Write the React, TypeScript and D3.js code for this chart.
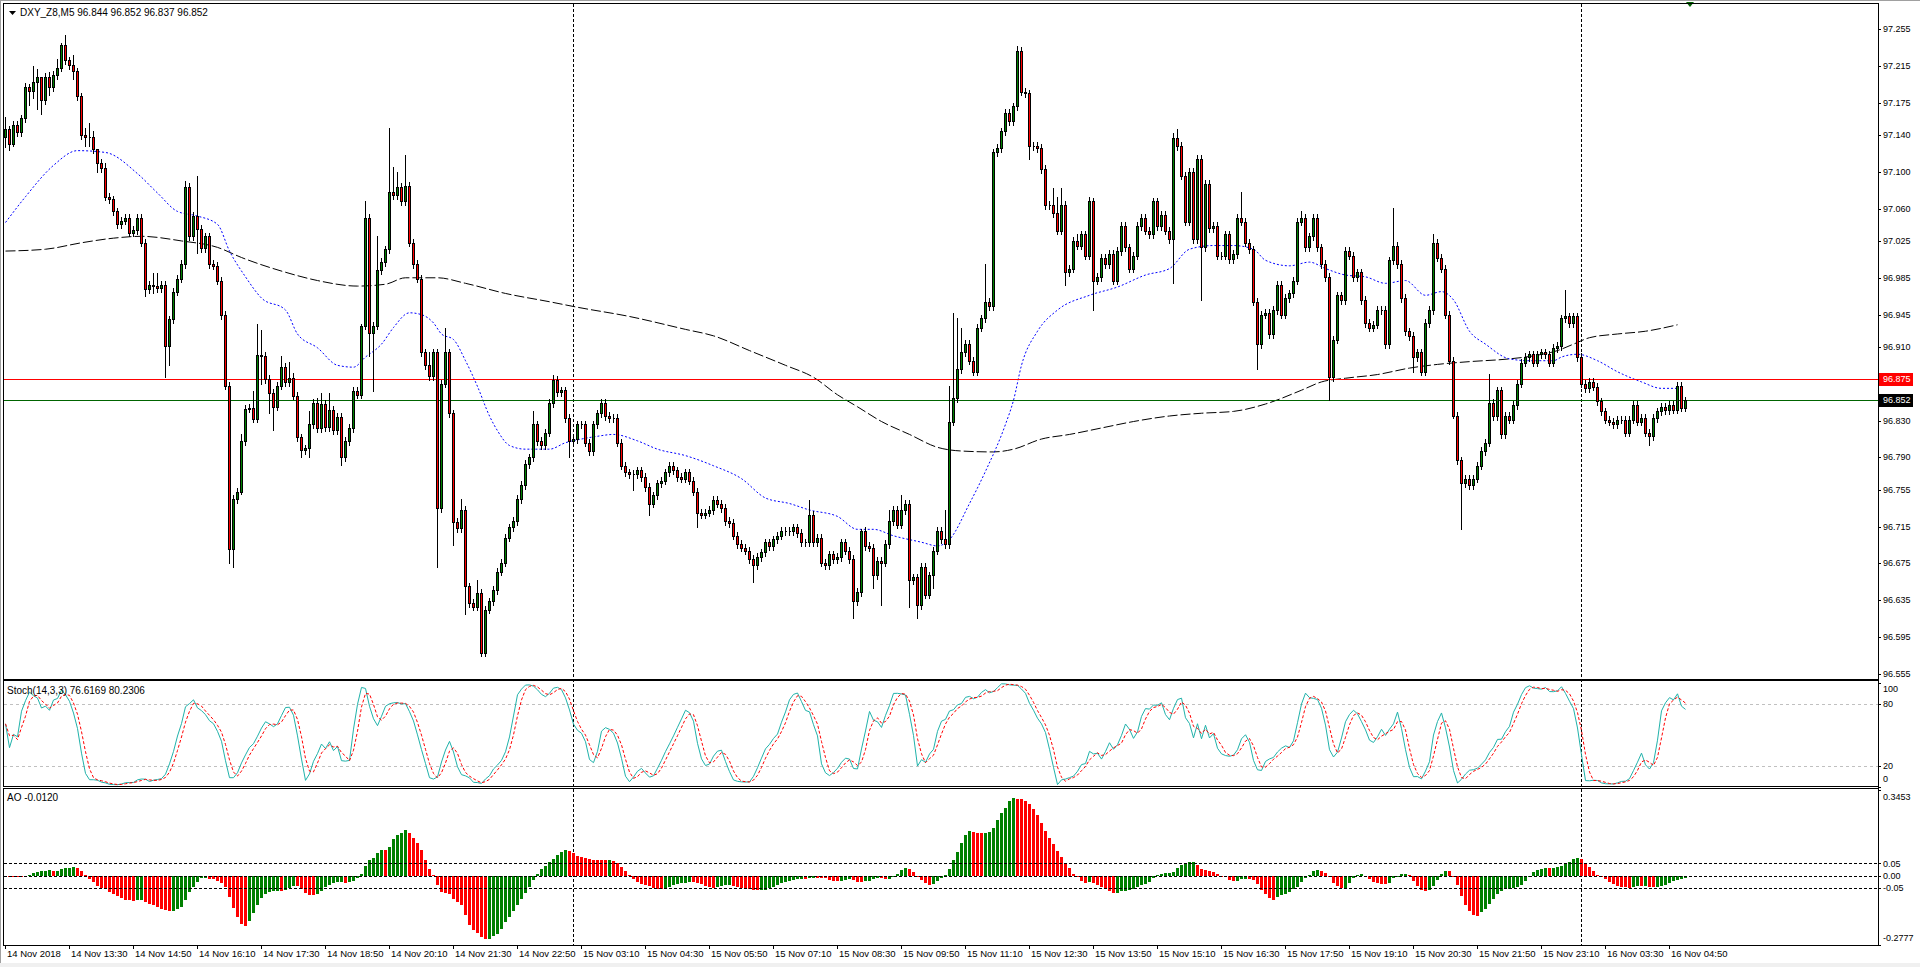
import React from 'react';
import * as d3 from 'd3';

// ---- DATA (DXY_Z8, M5) ----
const firstOpen = 97.138;
const closes: number[] = [
  97.147, 97.130, 97.151, 97.143, 97.158, 97.192, 97.188, 97.198, 97.203, 97.178,
  97.203, 97.192, 97.205, 97.213, 97.238, 97.221, 97.216, 97.209, 97.182, 97.140,
  97.138, 97.138, 97.125, 97.110, 97.104, 97.073, 97.070, 97.057, 97.043, 97.047,
  97.050, 97.034, 97.037, 97.050, 97.023, 96.973, 96.977, 96.976, 96.974, 96.977,
  96.911, 96.940, 96.970, 96.984, 97.000, 97.084, 97.030, 97.052, 97.038, 97.017,
  97.030, 97.000, 96.998, 96.982, 96.945, 96.868, 96.691, 96.745, 96.753, 96.808,
  96.843, 96.844, 96.832, 96.901, 96.900, 96.875, 96.860, 96.845, 96.868, 96.888,
  96.872, 96.876, 96.857, 96.812, 96.798, 96.800, 96.826, 96.849, 96.822, 96.848,
  96.823, 96.842, 96.820, 96.834, 96.790, 96.808, 96.822, 96.862, 96.858, 96.933,
  97.050, 96.925, 96.933, 96.993, 97.002, 97.016, 97.078, 97.075, 97.084, 97.068,
  97.085, 97.023, 97.000, 96.984, 96.904, 96.890, 96.878, 96.904, 96.735, 96.870,
  96.904, 96.838, 96.720, 96.713, 96.733, 96.650, 96.632, 96.628, 96.643, 96.578,
  96.625, 96.634, 96.646, 96.666, 96.676, 96.703, 96.714, 96.721, 96.745, 96.760,
  96.783, 96.790, 96.826, 96.808, 96.803, 96.817, 96.849, 96.874, 96.861, 96.863,
  96.833, 96.808, 96.810, 96.826, 96.826, 96.806, 96.797, 96.826, 96.838, 96.849,
  96.835, 96.833, 96.833, 96.806, 96.781, 96.774, 96.772, 96.772, 96.776, 96.769,
  96.758, 96.740, 96.749, 96.762, 96.765, 96.774, 96.781, 96.776, 96.769, 96.767,
  96.774, 96.765, 96.753, 96.730, 96.728, 96.730, 96.733, 96.744, 96.740, 96.735,
  96.721, 96.719, 96.705, 96.696, 96.692, 96.689, 96.680, 96.673, 96.682, 96.687,
  96.698, 96.694, 96.701, 96.705, 96.710, 96.710, 96.710, 96.714, 96.708, 96.698,
  96.698, 96.728, 96.698, 96.703, 96.676, 96.673, 96.685, 96.680, 96.682, 96.698,
  96.689, 96.680, 96.634, 96.644, 96.710, 96.694, 96.692, 96.662, 96.678, 96.676,
  96.696, 96.721, 96.733, 96.717, 96.733, 96.740, 96.657, 96.660, 96.630, 96.671,
  96.641, 96.662, 96.689, 96.710, 96.701, 96.696, 96.829, 96.854, 96.886, 96.904,
  96.913, 96.895, 96.883, 96.931, 96.941, 96.959, 96.954, 97.121, 97.126, 97.144,
  97.164, 97.155, 97.171, 97.231, 97.187, 97.185, 97.128, 97.128, 97.126, 97.103,
  97.064, 97.064, 97.055, 97.036, 97.064, 96.991, 96.995, 97.025, 97.020, 97.032,
  97.009, 97.068, 96.982, 96.986, 97.007, 97.000, 97.011, 96.982, 97.014, 97.041,
  97.018, 96.995, 97.009, 97.041, 97.050, 97.036, 97.032, 97.068, 97.041, 97.053,
  97.036, 97.027, 97.137, 97.128, 97.096, 97.046, 97.100, 97.027, 97.114, 97.018,
  97.087, 97.039, 97.041, 97.009, 97.009, 97.032, 97.005, 97.011, 97.050, 97.046,
  97.023, 97.016, 96.959, 96.913, 96.945, 96.947, 96.924, 96.950, 96.977, 96.945,
  96.963, 96.968, 96.982, 97.046, 97.050, 97.018, 97.030, 97.050, 97.018, 97.000,
  96.986, 96.877, 96.918, 96.966, 96.961, 97.014, 97.009, 96.986, 96.991, 96.961,
  96.936, 96.931, 96.934, 96.950, 96.950, 96.913, 97.004, 97.020, 97.000, 96.963,
  96.927, 96.922, 96.899, 96.904, 96.883, 96.936, 96.950, 97.023, 97.007, 96.995,
  96.945, 96.895, 96.835, 96.787, 96.762, 96.767, 96.760, 96.767, 96.781, 96.797,
  96.806, 96.849, 96.835, 96.863, 96.815, 96.835, 96.831, 96.847, 96.870, 96.893,
  96.899, 96.902, 96.893, 96.902, 96.904, 96.902, 96.893, 96.909, 96.911, 96.941,
  96.943, 96.936, 96.943, 96.899, 96.870, 96.865, 96.872, 96.867, 96.851, 96.840,
  96.831, 96.829, 96.826, 96.831, 96.831, 96.817, 96.831, 96.847, 96.829, 96.833,
  96.817, 96.813, 96.833, 96.840, 96.845, 96.841, 96.847, 96.842, 96.868, 96.844, 96.852,
];

// notable wick extremes: [bar, price]
const highWicks: [number, number][] = [
  [0, 97.160], [1, 97.150], [2, 97.155], [6, 97.195], [7, 97.215], [8, 97.212], [9, 97.190],
  [11, 97.208], [13, 97.222], [14, 97.240], [15, 97.248], [17, 97.227], [20, 97.148], [21, 97.153],
  [22, 97.144], [23, 97.125], [25, 97.110], [37, 96.990], [38, 96.990], [45, 97.090], [48, 97.095],
  [59, 96.815], [62, 96.862], [63, 96.935], [64, 96.928], [69, 96.900], [71, 96.894], [72, 96.882],
  [76, 96.840], [78, 96.855], [79, 96.860], [81, 96.860], [89, 96.935], [90, 97.068], [93, 97.030],
  [96, 97.148], [97, 97.105], [98, 97.100], [100, 97.118], [106, 96.905], [110, 96.930], [114, 96.745],
  [118, 96.657], [132, 96.840], [137, 96.879], [201, 96.744], [214, 96.712], [221, 96.733], [224, 96.749],
  [226, 96.744], [235, 96.733], [236, 96.868], [237, 96.947], [238, 96.941], [239, 96.931], [245, 97.000],
  [253, 97.237], [262, 97.082], [263, 97.073], [264, 97.082], [268, 97.032], [271, 97.073], [292, 97.142],
  [293, 97.146], [309, 97.078], [324, 97.057], [347, 97.061], [357, 97.032], [371, 96.881], [390, 96.972],
];
const lowWicks: [number, number][] = [
  [0, 97.127], [1, 97.124], [2, 97.128], [6, 97.172], [7, 97.180], [8, 97.168], [9, 97.163],
  [11, 97.183], [17, 97.201], [20, 97.128], [21, 97.128], [22, 97.120], [23, 97.100], [35, 96.965],
  [37, 96.968], [40, 96.877], [41, 96.890], [48, 97.012], [54, 96.940], [56, 96.675], [57, 96.671],
  [59, 96.750], [64, 96.870], [66, 96.838], [67, 96.820], [74, 96.790], [76, 96.790], [84, 96.782],
  [91, 96.900], [92, 96.862], [108, 96.671], [112, 96.695], [115, 96.620], [119, 96.575], [141, 96.790],
  [157, 96.755], [161, 96.728], [173, 96.715], [187, 96.655], [212, 96.616], [217, 96.648], [219, 96.630],
  [226, 96.628], [228, 96.616], [232, 96.648], [256, 97.114], [265, 96.977], [272, 96.950], [292, 96.979],
  [299, 96.961], [313, 96.886], [331, 96.852], [352, 96.883], [362, 96.833], [364, 96.712], [411, 96.804],
];
const wickPad = 0.004;

// moving averages: [bar, price]
const blueMA: [number, number][] = [
  [0, 97.045], [5, 97.073], [12, 97.107], [18, 97.123], [25, 97.121], [33, 97.098], [38, 97.077],
  [43, 97.057], [48, 97.052], [53, 97.043], [56, 97.014], [60, 96.986], [64, 96.963], [70, 96.950],
  [73, 96.924], [78, 96.909], [83, 96.890], [87, 96.888], [90, 96.899], [94, 96.913], [97, 96.931],
  [101, 96.947], [104, 96.945], [107, 96.936], [109, 96.924], [112, 96.918], [115, 96.895], [118, 96.867],
  [121, 96.835], [123, 96.819], [126, 96.803], [130, 96.799], [136, 96.799], [140, 96.806], [144, 96.810],
  [148, 96.813], [152, 96.815], [158, 96.808], [163, 96.799], [170, 96.792], [177, 96.781], [184, 96.767],
  [190, 96.746], [196, 96.740], [201, 96.733], [208, 96.726], [213, 96.712], [217, 96.712], [222, 96.705],
  [229, 96.698], [233, 96.694], [236, 96.701], [241, 96.740], [245, 96.775], [250, 96.826], [252, 96.852],
  [254, 96.890], [258, 96.927], [263, 96.950], [271, 96.966], [278, 96.975], [285, 96.988], [291, 96.995],
  [296, 97.016], [302, 97.020], [307, 97.020], [312, 97.016], [315, 97.004], [321, 96.998], [326, 97.002],
  [330, 96.995], [335, 96.988], [340, 96.986], [345, 96.979], [350, 96.982], [355, 96.966], [359, 96.970],
  [362, 96.961], [366, 96.927], [370, 96.913], [376, 96.897], [381, 96.895], [387, 96.895], [389, 96.899],
  [393, 96.902], [398, 96.895], [403, 96.883], [409, 96.872], [414, 96.865], [418, 96.865],
];
const blackMA: [number, number][] = [
  [0, 97.014], [10, 97.016], [19, 97.023], [27, 97.028], [34, 97.030], [44, 97.025], [53, 97.018],
  [59, 97.007], [70, 96.991], [78, 96.982], [88, 96.976], [95, 96.978], [100, 96.985], [108, 96.985],
  [115, 96.979], [125, 96.968], [136, 96.959], [143, 96.953], [156, 96.943], [170, 96.929], [177, 96.922],
  [186, 96.906], [195, 96.890], [202, 96.877], [208, 96.858], [213, 96.845], [219, 96.829], [226, 96.815],
  [233, 96.801], [239, 96.797], [247, 96.796], [252, 96.799], [259, 96.810], [266, 96.815], [274, 96.822],
  [282, 96.829], [291, 96.835], [299, 96.838], [307, 96.840], [315, 96.848], [324, 96.863], [329, 96.872],
  [335, 96.876], [343, 96.880], [351, 96.887], [358, 96.891], [366, 96.894], [376, 96.897], [383, 96.901],
  [388, 96.906], [392, 96.913], [396, 96.920], [403, 96.924], [410, 96.927], [418, 96.934],
];

const priceTicks = [97.255, 97.215, 97.175, 97.140, 97.100, 97.060, 97.025, 96.985, 96.945, 96.910,
  96.830, 96.790, 96.755, 96.715, 96.675, 96.635, 96.595, 96.555];
const timeLabels = ['14 Nov 2018', '14 Nov 13:30', '14 Nov 14:50', '14 Nov 16:10', '14 Nov 17:30',
  '14 Nov 18:50', '14 Nov 20:10', '14 Nov 21:30', '14 Nov 22:50', '15 Nov 03:10', '15 Nov 04:30',
  '15 Nov 05:50', '15 Nov 07:10', '15 Nov 08:30', '15 Nov 09:50', '15 Nov 11:10', '15 Nov 12:30',
  '15 Nov 13:50', '15 Nov 15:10', '15 Nov 16:30', '15 Nov 17:50', '15 Nov 19:10', '15 Nov 20:30',
  '15 Nov 21:50', '15 Nov 23:10', '16 Nov 03:30', '16 Nov 04:50'];
const barsPerLabel = 16;
const daySeparators = [142, 394];
const stochTicks = [100, 80, 20, 0];
const stochLevels = [80, 20];
const aoTicks = [0.3453, 0.05, 0.0, -0.05, -0.2777];
const aoLevels = [0.05, 0.0, -0.05];
const redLevel = 96.875;
const bidLevel = 96.852;
const headerText = 'DXY_Z8,M5  96.844 96.852 96.837 96.852';
const stochText = 'Stoch(14,3,3) 76.6169 80.2306';
const aoText = 'AO -0.0120';

const FONT = '"Liberation Sans", Arial, sans-serif';
const BULL = '#008000';
const BEAR = '#ff0000';

export default function App() {
  const W = 1920, H = 967;
  const L = 4, R = 1878;
  const main = { top: 4, bottom: 679 };
  const st = { top: 681, bottom: 786 };
  const ao = { top: 789, bottom: 945 };
  const n = closes.length;

  const x = d3.scaleLinear().domain([0, n - 1]).range([5, 5 + 4 * (n - 1)]);
  const y = d3.scaleLinear().domain([96.555, 97.255]).range([674, 29]);
  const ys = d3.scaleLinear().domain([0, 100]).range([786.8, 682.9]);
  const ya = d3.scaleLinear().domain([-0.2777, 0.3453]).range([945, 790]);

  const hiMap = new Map(highWicks);
  const loMap = new Map(lowWicks);
  const candles = closes.map((c, i) => {
    const o = i ? closes[i - 1] : firstOpen;
    const h = Math.max(o, c, hiMap.has(i) ? hiMap.get(i)! : Math.max(o, c) + wickPad);
    const l = Math.min(o, c, loMap.has(i) ? loMap.get(i)! : Math.min(o, c) - wickPad);
    return { i, o, h, l, c };
  });

  // Stochastic (14,3,3)
  const kP = 14, slow = 3, dP = 3;
  const lls = candles.map((_, i) => d3.min(candles.slice(Math.max(0, i - kP + 1), i + 1), d => d.l)!);
  const hhs = candles.map((_, i) => d3.max(candles.slice(Math.max(0, i - kP + 1), i + 1), d => d.h)!);
  const kv = candles.map((_, i) => {
    let num = 0, den = 0;
    for (let j = Math.max(0, i - slow + 1); j <= i; j++) { num += candles[j].c - lls[j]; den += hhs[j] - lls[j]; }
    return den > 0 ? (100 * num) / den : 50;
  });
  const dv = kv.map((_, i) => d3.mean(kv.slice(Math.max(0, i - dP + 1), i + 1))!);

  // Awesome Oscillator
  const med = candles.map(d => (d.h + d.l) / 2);
  const sma = (p: number, i: number) => d3.mean(med.slice(Math.max(0, i - p + 1), i + 1))!;
  const aov = med.map((_, i) => sma(5, i) - sma(34, i));

  const px = (i: number) => Math.round(x(i));
  const lineP = d3.line<[number, number]>().x(d => x(d[0]) + 0.5).y(d => y(d[1])).curve(d3.curveMonotoneX);
  const lineS = d3.line<number>().x((_, i) => x(i) + 0.5).y(d => ys(d));

  const clampLbl = (v: number, top: number, bottom: number) => Math.min(Math.max(v, top + 8), bottom - 7);

  return (
    <svg width={W} height={H} style={{ position: 'absolute', left: 0, top: 0, background: '#fff' }}
      fontFamily={FONT}>
      <defs>
        <clipPath id="cMain"><rect x={L} y={main.top} width={R - L} height={main.bottom - main.top} /></clipPath>
        <clipPath id="cSt"><rect x={L} y={st.top} width={R - L} height={st.bottom - st.top} /></clipPath>
        <clipPath id="cAo"><rect x={L} y={ao.top} width={R - L} height={ao.bottom - ao.top} /></clipPath>
      </defs>
      <rect x={0} y={0} width={W} height={H} fill="#fff" />
      <rect x={0} y={963} width={W} height={4} fill="#f0f0f0" />
      <line x1={0.5} x2={0.5} y1={0} y2={963} stroke="#a0a0a0" />
      <line x1={0} x2={W} y1={0.5} y2={0.5} stroke="#a0a0a0" />

      {/* day separators */}
      {daySeparators.map(i => (
        <line key={'sep' + i} x1={px(i) + 0.5} x2={px(i) + 0.5} y1={main.top} y2={ao.bottom}
          stroke="#000" strokeDasharray="3,2" />
      ))}

      {/* MAIN PANEL */}
      <g clipPath="url(#cMain)">
        <path d={lineP(blackMA)!} fill="none" stroke="#000" strokeWidth={1} strokeDasharray="10,3" />
        <path d={lineP(blueMA)!} fill="none" stroke="#0000ff" strokeWidth={1} strokeDasharray="2,2" />
        <line x1={L} x2={R} y1={Math.round(y(redLevel)) + 0.5} y2={Math.round(y(redLevel)) + 0.5} stroke="#ff0000" />
        <line x1={L} x2={R} y1={Math.round(y(bidLevel)) + 0.5} y2={Math.round(y(bidLevel)) + 0.5} stroke="#006400" />
        <g shapeRendering="crispEdges">
          {candles.map(d => {
            const cx = px(d.i);
            const top = Math.round(y(Math.max(d.o, d.c)));
            const bot = Math.round(y(Math.min(d.o, d.c)));
            return (
              <g key={d.i}>
                <line x1={cx + 0.5} x2={cx + 0.5} y1={Math.round(y(d.h))} y2={Math.round(y(d.l)) + 1} stroke="#000" />
                <path d={`M${cx - 0.5},${top + 0.5}H${cx + 1.5}V${bot + 0.5}H${cx - 0.5}Z`}
                  fill={d.c >= d.o ? BULL : BEAR} stroke="#000" strokeWidth={1} />
              </g>
            );
          })}
        </g>
      </g>
      <path d="M1686,2 L1694,2 L1690,7 Z" fill="#006400" />
      <path d="M9,11 L16,11 L12.5,15 Z" fill="#000" />
      <text x={20} y={16} fontSize={10} fill="#000">{headerText}</text>

      {/* STOCH PANEL */}
      <g clipPath="url(#cSt)">
        {stochLevels.map(v => (
          <line key={'sl' + v} x1={L} x2={R} y1={Math.round(ys(v)) + 0.5} y2={Math.round(ys(v)) + 0.5}
            stroke="#c0c0c0" strokeDasharray="3,3" />
        ))}
        <path d={lineS(kv)!} fill="none" stroke="#20b2aa" strokeWidth={1} />
        <path d={lineS(dv)!} fill="none" stroke="#ff0000" strokeWidth={1} strokeDasharray="3,2" />
      </g>
      <text x={7} y={694} fontSize={10} fill="#000">{stochText}</text>

      {/* AO PANEL */}
      <g clipPath="url(#cAo)">
        <g shapeRendering="crispEdges">
          {aov.map((v, i) => {
            const y0 = Math.round(ya(0)), y1 = Math.round(ya(v));
            return (
              <rect key={'ao' + i} x={px(i) - 1} width={3} y={Math.min(y0, y1)} height={Math.max(1, Math.abs(y1 - y0))}
                fill={i > 0 && v > aov[i - 1] ? BULL : BEAR} />
            );
          })}
        </g>
        {aoLevels.map(v => (
          <line key={'al' + v} x1={L} x2={R} y1={Math.round(ya(v)) + 0.5} y2={Math.round(ya(v)) + 0.5}
            stroke="#000" strokeDasharray="3,2" />
        ))}
      </g>
      <text x={7} y={801} fontSize={10} fill="#000">{aoText}</text>

      {/* frames */}
      {[main, st, ao].map((p, k) => (
        <rect key={'fr' + k} x={L - 0.5} y={p.top - 0.5} width={R - L + 1} height={p.bottom - p.top + 1}
          fill="none" stroke="#000" strokeWidth={1} shapeRendering="crispEdges" />
      ))}

      {/* price axis */}
      <g fontSize={9} fill="#000">
        {priceTicks.map(v => {
          const yy = Math.round(y(v));
          return (
            <g key={'pt' + v}>
              <line x1={R} x2={R + 3} y1={yy + 0.5} y2={yy + 0.5} stroke="#000" />
              <text x={R + 5} y={yy} dy="0.35em">{v.toFixed(3)}</text>
            </g>
          );
        })}
        {[{ v: redLevel, bg: '#ff0000' }, { v: bidLevel, bg: '#000' }].map(t => {
          const yy = Math.round(y(t.v));
          return (
            <g key={'pl' + t.v}>
              <rect x={R + 1} y={yy - 6} width={34} height={13} fill={t.bg} />
              <text x={R + 5} y={yy} dy="0.35em" fill="#fff">{t.v.toFixed(3)}</text>
            </g>
          );
        })}
        {stochTicks.map(v => (
          <g key={'st' + v}>
            <line x1={R} x2={R + 3} y1={Math.round(ys(v)) + 0.5} y2={Math.round(ys(v)) + 0.5} stroke="#000" />
            <text x={R + 5} y={clampLbl(ys(v), st.top, st.bottom)} dy="0.35em">{String(v)}</text>
          </g>
        ))}
        {aoTicks.map(v => (
          <g key={'at' + v}>
            <line x1={R} x2={R + 3} y1={Math.round(ya(v)) + 0.5} y2={Math.round(ya(v)) + 0.5} stroke="#000" />
            <text x={R + 5} y={clampLbl(ya(v), ao.top, ao.bottom)} dy="0.35em">
              {Math.abs(v) === 0.05 || v === 0 ? v.toFixed(2) : v.toFixed(4)}
            </text>
          </g>
        ))}
      </g>

      {/* time axis */}
      <g fontSize={9.5} fill="#000">
        {timeLabels.map((t, k) => {
          const tx = px(k * barsPerLabel);
          return (
            <g key={'tl' + k}>
              <line x1={tx + 0.5} x2={tx + 0.5} y1={ao.bottom} y2={ao.bottom + 4} stroke="#000" />
              <text x={tx + 2} y={957}>{t}</text>
            </g>
          );
        })}
      </g>
    </svg>
  );
}
